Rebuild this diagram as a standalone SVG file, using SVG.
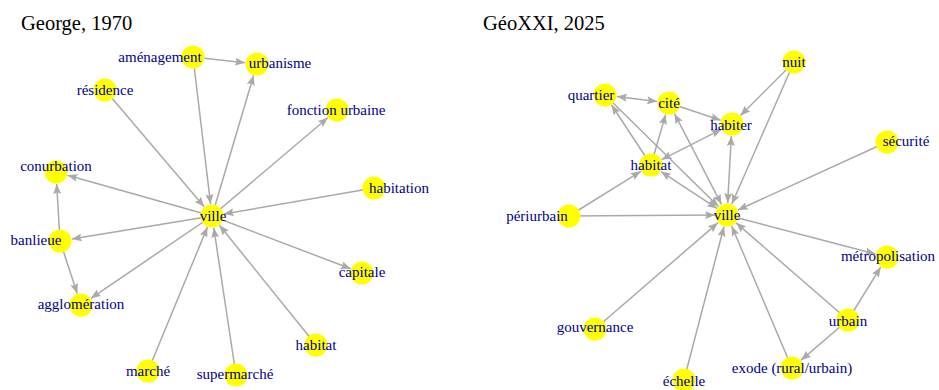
<svg xmlns="http://www.w3.org/2000/svg" width="939" height="390" viewBox="0 0 939 390" font-family="'Liberation Serif', 'DejaVu Serif', serif">
<style>
.e{stroke:#A9A9A9;stroke-width:1.5;fill:none;marker-end:url(#ah)}
.d{marker-start:url(#ah)}
.n circle{fill:#FFFF00;stroke:none}
.n text{font-family:'Liberation Serif', 'DejaVu Serif', serif;font-size:15px;fill:#00008B;text-anchor:middle}
.t{font-family:'Liberation Serif', 'DejaVu Serif', serif;font-size:20.5px;fill:#000}
</style>
<defs>
<marker id="ah" viewBox="0 0 10 8" refX="10" refY="4" markerWidth="10" markerHeight="8" markerUnits="userSpaceOnUse" orient="auto-start-reverse">
<path d="M0,0 L10,4 L0,8 L1.8,4 z" fill="#A9A9A9"/>
</marker>
</defs>
<rect width="939" height="390" fill="#fff"/>
<text class="t" x="21" y="30">George, 1970</text>
<text class="t" x="483" y="30">GéoXXI, 2025</text>
<g id="edges-left">
<line class="e" x1="193" y1="57" x2="245.07" y2="62.7"/>
<line class="e" x1="193" y1="57" x2="210.58" y2="204.09"/>
<line class="e" x1="212" y1="216" x2="253.59" y2="75.51"/>
<line class="e" x1="105" y1="90" x2="204.23" y2="206.85"/>
<line class="e" x1="212" y1="216" x2="327.85" y2="117.76"/>
<line class="e" x1="212" y1="216" x2="67.55" y2="175.26"/>
<line class="e" x1="374" y1="188" x2="223.82" y2="213.96"/>
<line class="e" x1="60" y1="241" x2="56.69" y2="183.98"/>
<line class="e" x1="212" y1="216" x2="71.84" y2="239.05"/>
<line class="e" x1="60" y1="241" x2="77.26" y2="293.6"/>
<line class="e" x1="212" y1="216" x2="90.93" y2="298.26"/>
<line class="e" x1="212" y1="216" x2="350.78" y2="268.74"/>
<line class="e" x1="148" y1="371" x2="207.42" y2="227.09"/>
<line class="e" x1="236" y1="375" x2="213.79" y2="227.87"/>
<line class="e" x1="316" y1="345" x2="219.53" y2="225.34"/>
</g>
<g id="edges-right">
<line class="e d" x1="616.91" y1="96.49" x2="657.09" y2="101.51"/>
<line class="e" x1="669" y1="103" x2="720.62" y2="120.21"/>
<line class="e" x1="794" y1="62" x2="740.49" y2="115.51"/>
<line class="e" x1="794" y1="62" x2="731.81" y2="204.01"/>
<line class="e" x1="651" y1="165" x2="611.59" y2="105.03"/>
<line class="e" x1="651" y1="165" x2="665.65" y2="114.52"/>
<line class="e d" x1="661.71" y1="159.58" x2="721.29" y2="129.42"/>
<line class="e" x1="605" y1="95" x2="718.45" y2="206.59"/>
<line class="e d" x1="674.52" y1="113.66" x2="721.48" y2="204.34"/>
<line class="e d" x1="661.03" y1="171.6" x2="716.97" y2="208.4"/>
<line class="e d" x1="731.34" y1="135.98" x2="727.66" y2="203.02"/>
<line class="e" x1="569" y1="216" x2="715" y2="215.08"/>
<line class="e" x1="569" y1="216" x2="640.81" y2="171.34"/>
<line class="e" x1="887" y1="142" x2="737.92" y2="210.02"/>
<line class="e" x1="727" y1="215" x2="875.39" y2="253.95"/>
<line class="e" x1="595" y1="329" x2="717.92" y2="222.84"/>
<line class="e" x1="684" y1="380" x2="723.97" y2="226.61"/>
<line class="e" x1="792" y1="368" x2="731.69" y2="226.05"/>
<line class="e" x1="848" y1="320" x2="736.06" y2="222.86"/>
<line class="e" x1="848" y1="320" x2="880.68" y2="267.2"/>
<line class="e" x1="848" y1="320" x2="801.11" y2="360.19"/>
</g>
<g id="n-amenagement" class="n"><circle cx="193" cy="57" r="11.5"/><text x="160" y="62">aménagement</text></g>
<g id="n-urbanisme" class="n"><circle cx="257" cy="64" r="11.5"/><text x="280" y="68">urbanisme</text></g>
<g id="n-residence" class="n"><circle cx="105" cy="90" r="11.5"/><text x="105" y="95">résidence</text></g>
<g id="n-fonction" class="n"><circle cx="337" cy="110" r="11.5"/><text x="336" y="115">fonction urbaine</text></g>
<g id="n-conurbation" class="n"><circle cx="56" cy="172" r="11.5"/><text x="56" y="171">conurbation</text></g>
<g id="n-habitation" class="n"><circle cx="374" cy="188" r="11.5"/><text x="399" y="193">habitation</text></g>
<g id="n-ville1" class="n"><circle cx="212" cy="216" r="11.5"/><text x="213" y="221">ville</text></g>
<g id="n-banlieue" class="n"><circle cx="60" cy="241" r="11.5"/><text x="36" y="245">banlieue</text></g>
<g id="n-capitale" class="n"><circle cx="362" cy="273" r="11.5"/><text x="362" y="277">capitale</text></g>
<g id="n-agglomeration" class="n"><circle cx="81" cy="305" r="11.5"/><text x="81" y="309">agglomération</text></g>
<g id="n-habitat1" class="n"><circle cx="316" cy="345" r="11.5"/><text x="316" y="350">habitat</text></g>
<g id="n-marche" class="n"><circle cx="148" cy="371" r="11.5"/><text x="148" y="376">marché</text></g>
<g id="n-supermarche" class="n"><circle cx="236" cy="375" r="11.5"/><text x="235" y="379">supermarché</text></g>
<g id="n-nuit" class="n"><circle cx="794" cy="62" r="11.5"/><text x="794" y="67">nuit</text></g>
<g id="n-quartier" class="n"><circle cx="605" cy="95" r="11.5"/><text x="591" y="100">quartier</text></g>
<g id="n-cite" class="n"><circle cx="669" cy="103" r="11.5"/><text x="669" y="108">cité</text></g>
<g id="n-habiter" class="n"><circle cx="732" cy="124" r="11.5"/><text x="731" y="130">habiter</text></g>
<g id="n-securite" class="n"><circle cx="887" cy="142" r="11.5"/><text x="906" y="146">sécurité</text></g>
<g id="n-habitat2" class="n"><circle cx="651" cy="165" r="11.5"/><text x="651" y="170">habitat</text></g>
<g id="n-ville2" class="n"><circle cx="727" cy="215" r="11.5"/><text x="727" y="220">ville</text></g>
<g id="n-periurbain" class="n"><circle cx="569" cy="216" r="11.5"/><text x="537" y="221">périurbain</text></g>
<g id="n-metropolisation" class="n"><circle cx="887" cy="257" r="11.5"/><text x="888" y="261">métropolisation</text></g>
<g id="n-gouvernance" class="n"><circle cx="595" cy="329" r="11.5"/><text x="595" y="332">gouvernance</text></g>
<g id="n-urbain" class="n"><circle cx="848" cy="320" r="11.5"/><text x="848" y="326">urbain</text></g>
<g id="n-exode" class="n"><circle cx="792" cy="368" r="11.5"/><text x="792" y="373">exode (rural/urbain)</text></g>
<g id="n-echelle" class="n"><circle cx="684" cy="380" r="11.5"/><text x="684" y="386">échelle</text></g>
</svg>
